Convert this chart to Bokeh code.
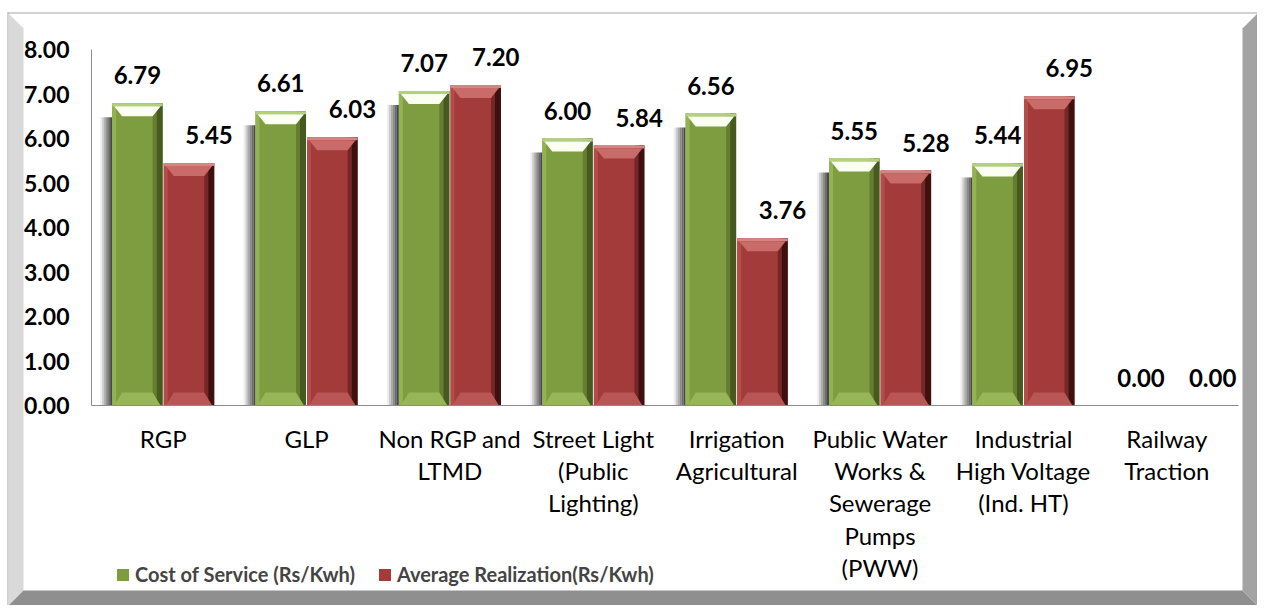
from bokeh.plotting import figure
from bokeh.models import (Range1d, FixedTicker, NumeralTickFormatter, Legend, LegendItem,
                          ColumnDataSource)
from bokeh.embed import file_html
from bokeh.resources import INLINE
from bokeh.core.properties import value

# ---------------- data ----------------
categories = ["RGP", "GLP", "Non RGP and\nLTMD", "Street Light\n(Public\nLighting)",
              "Irrigation\nAgricultural", "Public Water\nWorks &\nSewerage\nPumps\n(PWW)",
              "Industrial\nHigh Voltage\n(Ind. HT)", "Railway\nTraction"]
cost_of_service = [6.79, 6.61, 7.07, 6.00, 6.56, 5.55, 5.44, 0.00]
avg_realization = [5.45, 6.03, 7.20, 5.84, 3.76, 5.28, 6.95, 0.00]
series_names = ["Cost of Service (Rs/Kwh)", "Average Realization(Rs/Kwh)"]
y_ticks = [0, 1, 2, 3, 4, 5, 6, 7, 8]

# ---------------- layout (pixels) ----------------
W, H = 1257, 605
n = len(categories)
Y_MAX = 8
PL, PR, PT, PB = 91, 1238, 49, 405      # plot-area edges on the canvas
XU = (PR - PL) / n                      # px per x unit
YU = (PB - PT) / Y_MAX                  # px per y unit
x0 = -0.5 - PL / XU
y1 = Y_MAX + PT / YU
X = lambda cx: x0 + cx / XU             # canvas px -> data
Y = lambda cy: y1 - cy / YU
px = lambda v: v / XU
py = lambda v: v / YU
FONT = "Lato"

p = figure(width=W, height=H, output_backend="svg", toolbar_location=None,
           x_range=Range1d(x0, x0 + W / XU), y_range=Range1d(y1 - H / YU, y1),
           min_border=0, min_border_left=0, min_border_right=0,
           min_border_top=0, min_border_bottom=0)
p.background_fill_color = "white"
p.border_fill_color = "white"
p.outline_line_color = None
p.xgrid.visible = False
p.ygrid.visible = False

# ---------------- 3D chart frame ----------------
B = 15
frame_polys = [
    ([7, W, W, 7], [12, 12, 13, 13], "#A6A6A6"),
    ([7, 8, 8, 7], [12, 12, H, H], "#A6A6A6"),
    ([8, 8 + B, 8 + B, 8], [13, 13 + B, H - B, H], "#D9D9D9"),
    ([8, 8 + B, W - B, W], [H, H - B, H - B, H], "#8F8F8F"),
    ([W - B, W, W, W - B], [13 + B, 13, H, H - B], "#A3A3A3"),
]
p.patches(xs=[[X(c) for c in xs] for xs, ys, c in frame_polys],
          ys=[[Y(c) for c in ys] for xs, ys, c in frame_polys],
          fill_color=[c for xs, ys, c in frame_polys], line_color=None)

# ---------------- bars ----------------
BW = px(50.5)
OFF = px(25.8)
styles = [
    dict(main="#7E9C40", dark="#46591F", light="#93B252", top="#FBFFF2", rim="#B3D07A", bot="#97B658"),
    dict(main="#A33B3A", dark="#3E1010", light="#B44C4A", top="#C86B69", rim="#D58482", bot="#B85655"),
]
series = [cost_of_service, avg_realization]
main_renderers = []

# soft shadows on the left of each group
for k in range(6):
    xs0, xs1, tops = [], [], []
    for i, v in enumerate(cost_of_service):
        if v <= 0:
            continue
        left = i - OFF - BW / 2
        xs0.append(left - px(12) + px(2 * k))
        xs1.append(left - px(12) + px(2 * k + 2))
        tops.append(v - py(14))
    p.quad(left=xs0, right=xs1, bottom=[0] * len(xs0), top=tops,
           fill_color="#303030", fill_alpha=0.08 + 0.16 * k, line_color=None)

for s, vals in enumerate(series):
    st = styles[s]
    sign = -1 if s == 0 else 1
    xc = [i + sign * OFF for i in range(n)]
    src = ColumnDataSource(dict(x=xc, top=vals))
    r = p.vbar(x="x", top="top", width=BW, bottom=0, source=src,
               fill_color=st["main"], line_color=None)
    main_renderers.append(r)
    p.quad(left=[x - BW / 2 for x in xc], right=[x - BW / 2 + px(4) for x in xc],
           bottom=[0] * n, top=vals, fill_color=st["light"], line_color=None)
    p.quad(left=[x + BW / 2 - px(6) for x in xc], right=[x + BW / 2 for x in xc],
           bottom=[0] * n, top=vals, fill_color=st["dark"], line_color=None)
    p.quad(left=[x + BW / 2 - px(10) for x in xc], right=[x + BW / 2 - px(6) for x in xc],
           bottom=[0] * n, top=vals, fill_color=st["dark"], fill_alpha=0.45, line_color=None)
    txs, tys, bxs, bys, rxs, rys = [], [], [], [], [], []
    for x, v in zip(xc, vals):
        if v <= 0:
            continue
        l, rr = x - BW / 2, x + BW / 2
        h = min(py(13), v / 2)
        ins = px(10)
        rxs.append([l, rr, rr, l]); rys.append([v, v, v - py(3), v - py(3)])
        txs.append([l + px(2), rr - px(2), rr - ins, l + ins]); tys.append([v - py(3), v - py(3), v - h, v - h])
        bxs.append([l + ins, rr - ins, rr - px(2), l + px(2)]); bys.append([h, h, 0, 0])
    p.patches(xs=bxs, ys=bys, fill_color=st["bot"], line_color=None)
    p.patches(xs=rxs, ys=rys, fill_color=st["rim"], line_color=None)
    p.patches(xs=txs, ys=tys, fill_color=st["top"], line_color=None)
    p.text(x=xc, y=vals, text=[f"{v:.2f}" for v in vals],
           text_font=value(FONT), text_font_style="bold", text_font_size="24px",
           text_color="black", text_align="center", text_baseline="middle",
           x_offset=(0 if s == 0 else 20), y_offset=-28)

# ---------------- axes ----------------
p.yaxis.fixed_location = -0.5
p.yaxis.bounds = (0, Y_MAX)
p.yaxis.ticker = FixedTicker(ticks=y_ticks)
p.yaxis.formatter = NumeralTickFormatter(format="0.00")
p.yaxis.major_label_text_font = FONT
p.yaxis.major_label_text_font_style = "bold"
p.yaxis.major_label_text_font_size = "23px"
p.yaxis.major_label_text_color = "black"
p.yaxis.major_label_standoff = 16
p.yaxis.axis_line_color = "#8C8C8C"
p.yaxis.major_tick_line_color = None
p.yaxis.minor_tick_line_color = None

p.xaxis.fixed_location = 0
p.xaxis.bounds = (-0.5, n - 0.5)
p.xaxis.ticker = FixedTicker(ticks=list(range(n)))
p.xaxis.major_label_overrides = {i: c for i, c in enumerate(categories)}
p.xaxis.major_label_text_font = FONT
p.xaxis.major_label_text_font_size = "24px"
p.xaxis.major_label_text_color = "black"
p.xaxis.major_label_text_line_height = 1.12
p.xaxis.major_label_standoff = 12
p.xaxis.axis_line_color = "#8C8C8C"
p.xaxis.major_tick_line_color = None
p.xaxis.minor_tick_line_color = None

# ---------------- legend ----------------
legend = Legend(items=[LegendItem(label=series_names[0], renderers=[main_renderers[0]]),
                       LegendItem(label=series_names[1], renderers=[main_renderers[1]])],
                orientation="horizontal", location=(115, 19),
                glyph_width=15, glyph_height=15, label_standoff=5, spacing=22, padding=0,
                margin=0, border_line_color=None, background_fill_alpha=0,
                label_text_font=FONT, label_text_font_style="bold", label_text_font_size="20px")
p.add_layout(legend)

open("out.html", "w").write(file_html(p, INLINE))
